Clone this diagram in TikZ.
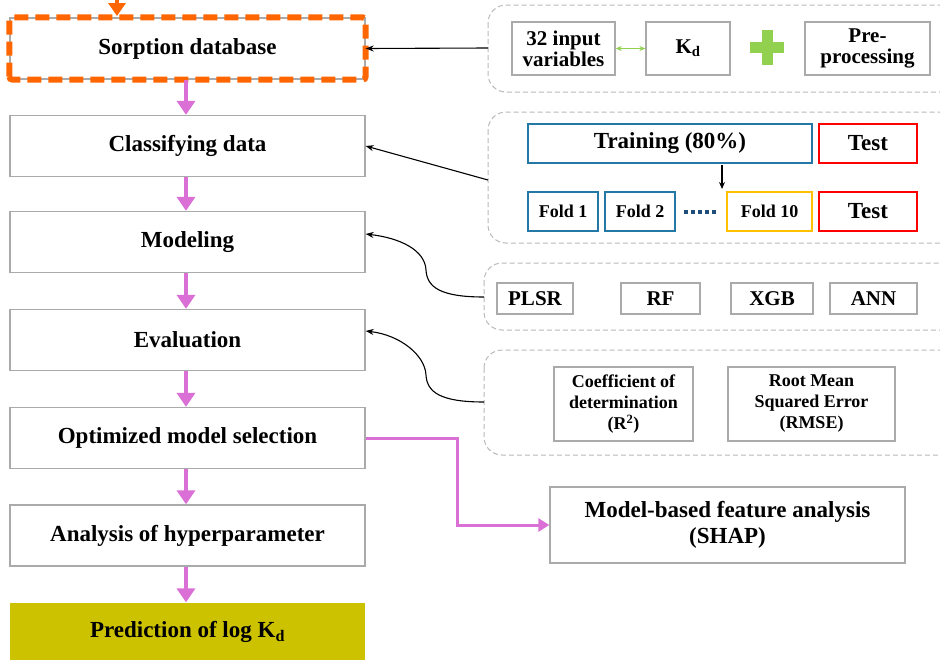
\documentclass[tikz,border=0pt]{standalone}
\usepackage{fontspec}
\setmainfont{Liberation Serif}
\usetikzlibrary{arrows.meta,positioning}
\definecolor{boxgray}{RGB}{170,170,170}
\definecolor{panelgray}{RGB}{185,185,185}
\definecolor{sorange}{RGB}{255,102,0}
\definecolor{pinkarrow}{RGB}{218,112,214}
\definecolor{olivefill}{RGB}{204,194,0}
\definecolor{plusgreen}{RGB}{146,208,80}
\definecolor{trainblue}{RGB}{35,120,165}
\definecolor{foldgold}{RGB}{255,192,0}
\definecolor{testred}{RGB}{255,0,0}
\definecolor{dotblue}{RGB}{31,78,121}
\tikzset{
  flowbox/.style={draw=boxgray, line width=1.3pt, minimum width=355pt, minimum height=61pt,
    font=\bfseries\fontsize{23}{25}\selectfont, align=center, inner sep=0pt},
  smallbox/.style={draw=boxgray, line width=1.3pt, font=\bfseries\fontsize{21}{22}\selectfont,
    align=center, inner sep=0pt},
  panel/.style={draw=panelgray, line width=1pt, dashed, dash pattern=on 5pt off 3pt, rounded corners=18pt},
  pinkflow/.style={draw=pinkarrow, line width=4.5pt, -{Triangle[width=18pt,length=14pt]}},
  feed/.style={draw=black, line width=1.1pt, -{Stealth[length=8pt,width=6pt]}},
  bigtxt/.style={font=\bfseries\fontsize{23}{25}\selectfont},
  foldtxt/.style={font=\bfseries\fontsize{18}{20}\selectfont},
}
\begin{document}
\begin{tikzpicture}[x=1pt,y=-1pt]
\useasboundingbox (0,0) rectangle (940,659);
\clip (0,0) rectangle (940,659);

% ---------- left flow ----------
\node[flowbox] (sorp) at (187.5,48.5) {Sorption database};
\draw[sorange, line width=6pt, dash pattern=on 14pt off 7pt, rounded corners=3pt]
  (sorp.south west) rectangle (sorp.north east);
\node[flowbox] (clas) at (187.5,146) {Classifying data};
\node[flowbox] (mode) at (187.5,242) {Modeling};
\node[flowbox] (eval) at (187.5,340) {Evaluation};
\node[flowbox] (opti) at (187.5,438) {Optimized model selection};
\node[flowbox] (anal) at (187.5,535.5) {Analysis of hyperparameter};
\node[flowbox, draw=none, fill=olivefill, minimum height=58pt] (pred) at (187.5,632) {Prediction of log K\textsubscript{d}};

\coordinate (topin) at (117,-2);
\draw[sorange, line width=4pt, -{Triangle[width=17pt,length=13pt]}] (topin) -- (117,16);

\draw[pinkflow] (sorp.south -| 186,0) -- (clas.north -| 186,0);
\draw[pinkflow] (clas.south -| 186,0) -- (mode.north -| 186,0);
\draw[pinkflow] (mode.south -| 186,0) -- (eval.north -| 186,0);
\draw[pinkflow] (eval.south -| 186,0) -- (opti.north -| 186,0);
\draw[pinkflow] (opti.south -| 186,0) -- (anal.north -| 186,0);
\draw[pinkflow] (anal.south -| 186,0) -- (pred.north -| 186,0);

% ---------- panel 1 ----------
\draw[panel] (488,5) rectangle (965,92);
\coordinate (p1) at (488,48);
\node[smallbox, minimum width=103pt, minimum height=53pt] (inp) at (563.5,48.5) {32 input\\[-1pt]variables};
\node[smallbox, minimum width=84pt, minimum height=53pt] (kd) at (688,48.5) {K\textsubscript{d}};
\node[smallbox, minimum width=125pt, minimum height=53pt] (pre) at (867.5,48.5) {Pre-\\[-1pt]processing};
\draw[plusgreen, line width=1.3pt, {Stealth[length=6pt,width=5pt]}-{Stealth[length=6pt,width=5pt]}] (inp.east) -- (kd.west);
\fill[plusgreen] (750,42) rectangle (784,53);
\fill[plusgreen] (761.5,30) rectangle (772.5,65);
\draw[feed] (p1) -- (sorp.east);

% ---------- panel 2 ----------
\draw[panel] (488,112) rectangle (965,243);
\coordinate (p2) at (488,180);
\node[draw=trainblue, line width=1.5pt, minimum width=284pt, minimum height=39pt, inner sep=0pt,
  bigtxt] (train) at (670,143.5) {Training (80\%)};
\node[draw=testred, line width=1.5pt, minimum width=98pt, minimum height=39pt, inner sep=0pt,
  bigtxt] (test1) at (868,143.5) {Test};
\node[draw=trainblue, line width=1.5pt, minimum width=70pt, minimum height=39pt, inner sep=0pt,
  foldtxt] (f1) at (563,211.5) {Fold 1};
\node[draw=trainblue, line width=1.5pt, minimum width=70pt, minimum height=39pt, inner sep=0pt,
  foldtxt] (f2) at (640,211.5) {Fold 2};
\node[draw=foldgold, line width=1.5pt, minimum width=85pt, minimum height=39pt, inner sep=0pt,
  foldtxt] (f10) at (769.5,211.5) {Fold 10};
\node[draw=testred, line width=1.5pt, minimum width=98pt, minimum height=39pt, inner sep=0pt,
  bigtxt] (test2) at (868,211.5) {Test};
\draw[dotblue, line width=3.2pt, dash pattern=on 3.5pt off 3.5pt] (684,212) -- (718,212);
\coordinate (tarr) at (722,165);
\coordinate (tarrend) at (722,189);
\draw[feed, -{Stealth[length=7pt,width=6pt]}] (tarr) -- (tarrend);
\draw[feed] (p2) -- (clas.east);

% ---------- panel 3 ----------
\draw[panel] (484,263) rectangle (965,330);
\coordinate (p3) at (484,297);
\node[smallbox, minimum width=76pt, minimum height=31pt] (plsr) at (535,298.5) {PLSR};
\node[smallbox, minimum width=79pt, minimum height=31pt] (rf) at (660.5,298.5) {RF};
\node[smallbox, minimum width=82pt, minimum height=31pt] (xgb) at (772,298.5) {XGB};
\node[smallbox, minimum width=87pt, minimum height=31pt] (ann) at (873.5,298.5) {ANN};
\draw[feed] (p3) .. controls (440,297) and (427,287) .. (426,270)
  .. controls (425,250) and (400,238) .. ([yshift=8pt]mode.east);

% ---------- panel 4 ----------
\draw[panel] (484,350) rectangle (965,455);
\coordinate (p4) at (484,402);
\node[smallbox, minimum width=139pt, minimum height=74pt, font=\bfseries\fontsize{18}{21}\selectfont]
  (r2) at (623.5,404) {Coefficient of\\determination\\(R\textsuperscript{2})};
\node[smallbox, minimum width=167pt, minimum height=74pt, font=\bfseries\fontsize{18}{21}\selectfont]
  (rmse) at (811.5,404) {Root Mean\\Squared Error\\(RMSE)};
\draw[feed] (p4) .. controls (440,402) and (427,392) .. (426,375)
  .. controls (425,355) and (400,335) .. ([yshift=9pt]eval.east);

% ---------- SHAP ----------
\node[smallbox, minimum width=355pt, minimum height=76pt, font=\bfseries\fontsize{23}{26}\selectfont]
  (shap) at (727.5,525) {Model-based feature analysis\\(SHAP)};
\draw[draw=pinkarrow, line width=3pt, -{Triangle[width=13pt,length=11pt]}]
  (opti.east) -- (457,438) -- (457,525) -- (shap.west);
\end{tikzpicture}
\end{document}
